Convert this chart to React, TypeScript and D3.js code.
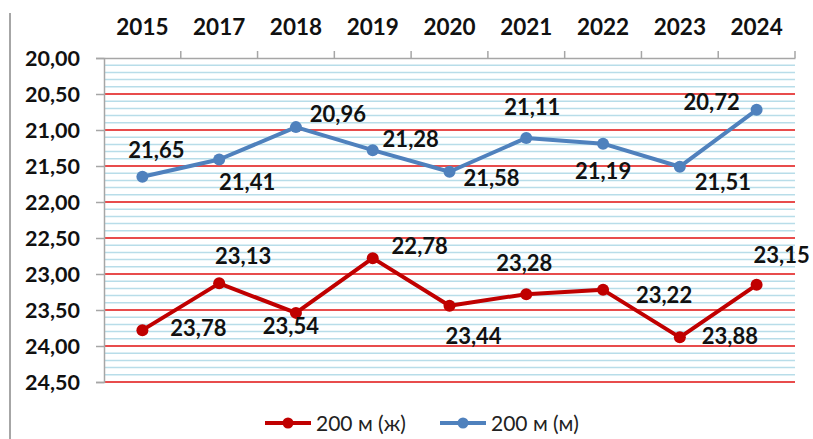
import React, { useEffect, useRef } from 'react';
import * as d3 from 'd3';

const years = ['2015', '2017', '2018', '2019', '2020', '2021', '2022', '2023', '2024'];
const women200 = [23.78, 23.13, 23.54, 22.78, 23.44, 23.28, 23.22, 23.88, 23.15];
const men200 = [21.65, 21.41, 20.96, 21.28, 21.58, 21.11, 21.19, 21.51, 20.72];
const seriesNames = ['200 м (ж)', '200 м (м)'];
const yTicks = [20, 20.5, 21, 21.5, 22, 22.5, 23, 23.5, 24, 24.5];

// where each data label sits relative to its point (dx, baseline dy)
const womenLabelOffsets = [[56, 6], [24, -19], [-5, 21], [47, -4], [24, 38], [-2, -23], [61, 13], [50, 7], [25, -22]];
const menLabelOffsets = [[14, -19], [28, 30], [42, -5], [38, -3], [42, 14], [6, -23], [0, 35], [43, 23], [-45, 0]];

const fmt = (v: number) => v.toFixed(2).replace('.', ',');

const App = () => {
    const svgRef = useRef<SVGSVGElement>(null);

    useEffect(() => {
        const svg = d3.select(svgRef.current);
        svg.selectAll('*').remove();

        const width = 813, height = 439;
        const plot = {left: 104, right: 795, top: 58, bottom: 382};
        const font = 'Lato, "Open Sans", sans-serif';

        svg.attr('width', width).attr('height', height);

        const x = d3.scaleBand().domain(years).range([plot.left, plot.right]);
        const cx = (d: string) => (x(d) as number) + x.bandwidth() / 2;
        const y = d3.scaleLinear().domain([20, 24.5]).range([plot.top, plot.bottom]);

        // left frame edge
        svg.append('line')
            .attr('x1', 10).attr('x2', 10).attr('y1', 13).attr('y2', height)
            .attr('stroke', '#a6a6a6').attr('stroke-width', 2);

        // minor grid every 0.1
        const minor = d3.range(20.1, 24.5, 0.1).filter((v) => Math.abs(v * 2 - Math.round(v * 2)) > 0.01);
        svg.append('g').selectAll('line')
            .data(minor)
            .enter()
            .append('line')
            .attr('x1', plot.left).attr('x2', plot.right)
            .attr('y1', (d) => y(d)).attr('y2', (d) => y(d))
            .attr('stroke', '#b8dde9').attr('stroke-width', 1.5);

        // major grid every 0.5
        svg.append('g').selectAll('line')
            .data(yTicks.slice(1))
            .enter()
            .append('line')
            .attr('x1', plot.left).attr('x2', plot.right)
            .attr('y1', (d) => y(d)).attr('y2', (d) => y(d))
            .attr('stroke', '#e01010').attr('stroke-width', 1.3);

        // y axis
        const yAxis = svg.append('g')
            .attr('transform', `translate(${plot.left},0)`)
            .call(d3.axisLeft(y).tickValues(yTicks).tickSize(8).tickFormat((d) => fmt(d as number)));
        yAxis.select('.domain').attr('stroke', '#a6a6a6').attr('stroke-width', 1.5);
        yAxis.selectAll('.tick line').attr('stroke', '#a6a6a6').attr('stroke-width', 1.5);
        yAxis.selectAll('.tick text')
            .attr('x', -24).attr('dy', '0.36em')
            .attr('font-family', font).attr('font-weight', 'bold').attr('font-size', 21.5).attr('fill', '#111');

        // top category axis
        const xAxis = svg.append('g')
            .attr('transform', `translate(0,${plot.top})`)
            .call(d3.axisTop(x).tickSize(0).tickPadding(23));
        xAxis.select('.domain').attr('stroke', '#a6a6a6').attr('stroke-width', 1.5);
        xAxis.selectAll('.tick text')
            .attr('font-family', font).attr('font-weight', 'bold').attr('font-size', 22.5).attr('fill', '#111');
        svg.append('g').selectAll('line')
            .data(years.slice(1).concat(['end']))
            .enter()
            .append('line')
            .attr('x1', (d) => d === 'end' ? plot.right : (x(d) as number))
            .attr('x2', (d) => d === 'end' ? plot.right : (x(d) as number))
            .attr('y1', plot.top - 7).attr('y2', plot.top)
            .attr('stroke', '#a6a6a6').attr('stroke-width', 1.5);

        const series = [
            {values: women200, color: '#c00000', offsets: womenLabelOffsets},
            {values: men200, color: '#4f81bd', offsets: menLabelOffsets},
        ];

        const line = d3.line<number>()
            .x((d, i) => cx(years[i]))
            .y((d) => y(d));

        series.forEach((s) => {
            const g = svg.append('g');
            g.append('path')
                .attr('d', line(s.values))
                .attr('fill', 'none')
                .attr('stroke', s.color)
                .attr('stroke-width', 4)
                .attr('stroke-linejoin', 'round');
            g.selectAll('circle')
                .data(s.values)
                .enter()
                .append('circle')
                .attr('cx', (d, i) => cx(years[i]))
                .attr('cy', (d) => y(d))
                .attr('r', 6)
                .attr('fill', s.color);
            g.selectAll('text')
                .data(s.values)
                .enter()
                .append('text')
                .attr('x', (d, i) => cx(years[i]) + s.offsets[i][0])
                .attr('y', (d, i) => y(d) + s.offsets[i][1])
                .attr('text-anchor', 'middle')
                .attr('font-family', font).attr('font-weight', 'bold').attr('font-size', 22).attr('fill', '#111')
                .text((d) => fmt(d));
        });

        // legend
        const legendX = [265, 440];
        series.forEach((s, i) => {
            const lg = svg.append('g').attr('transform', `translate(${legendX[i]},423)`);
            lg.append('line')
                .attr('x1', 0).attr('x2', 46).attr('y1', 0).attr('y2', 0)
                .attr('stroke', s.color).attr('stroke-width', 4);
            lg.append('circle').attr('cx', 23).attr('cy', 0).attr('r', 5.5).attr('fill', s.color);
            lg.append('text')
                .attr('x', 51).attr('y', 0).attr('dy', '0.36em')
                .attr('font-family', font).attr('font-size', 21).attr('fill', '#222')
                .text(seriesNames[i]);
        });
    }, []);

    return (
        <svg ref={svgRef} style={{position: 'absolute', left: 0, top: 0, background: '#fff'}}></svg>
    );
};

export default App;
